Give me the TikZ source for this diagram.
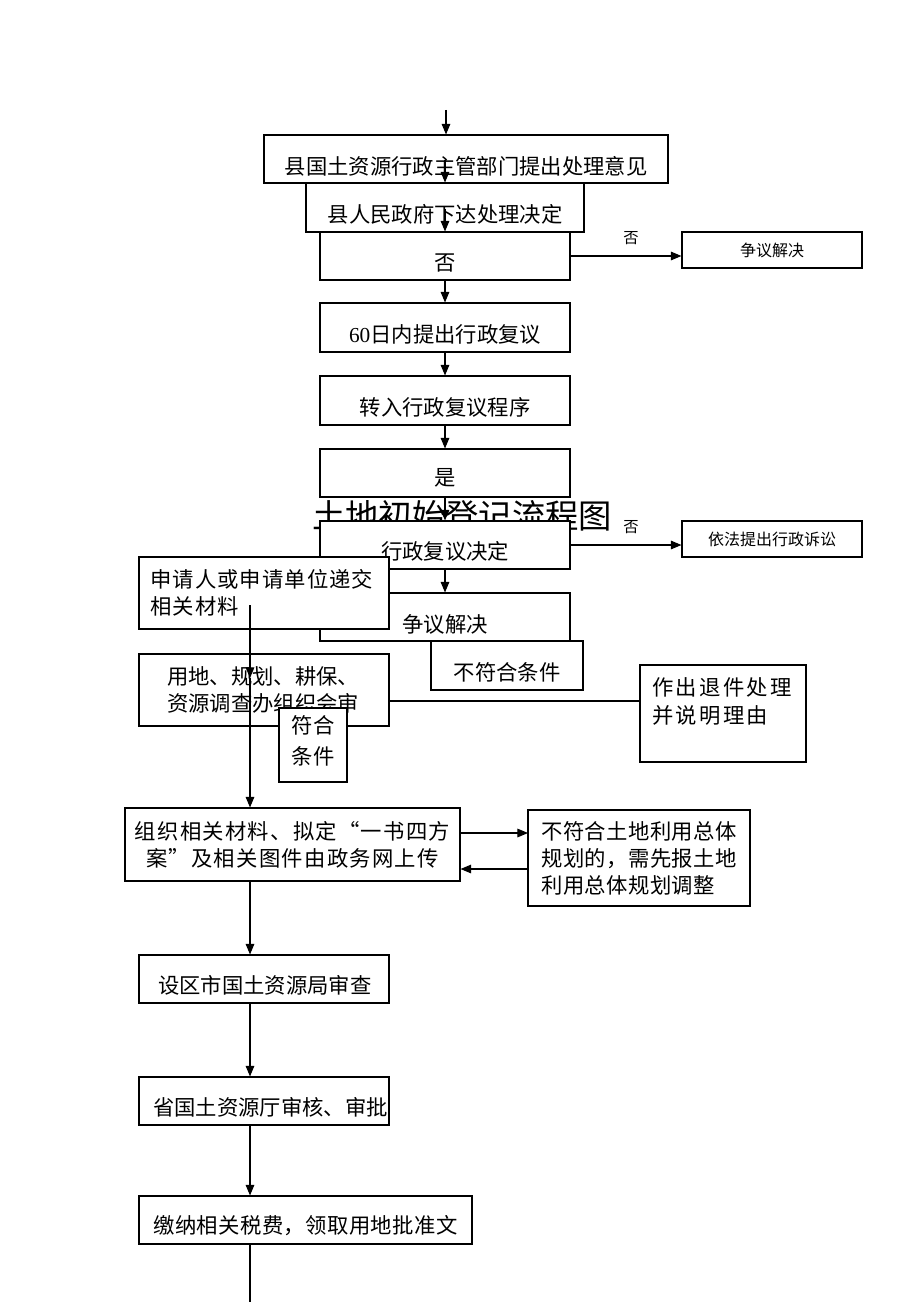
\documentclass[tikz,border=0pt]{standalone}
\usepackage{fontspec}
\setmainfont{Noto Sans CJK SC}
\newfontfamily\latinnum{Liberation Serif}
\usetikzlibrary{arrows.meta}

\tikzset{
  box/.style 2 args={draw, fill=white, line width=0.8pt, inner sep=0pt,
    minimum width=#1*0.75pt, minimum height=#2*0.75pt},
  txt/.style={inner sep=0pt, font=\fontsize{16}{20.25}\selectfont},
  smalltxt/.style={inner sep=0pt, font=\fontsize{11.5}{14}\selectfont},
  arr/.style={line width=0.8pt, -{Triangle[length=8pt,width=6.5pt]}},
  ln/.style={line width=0.8pt},
}

\begin{document}
\begin{tikzpicture}[x=0.75pt,y=-0.75pt]
  \useasboundingbox[fill=white] (0,0) rectangle (920,1302);

  %title, lower half hidden by the boxes drawn later
  \node[inner sep=0pt, font=\fontsize{25}{30}\selectfont] (title) at (462,516) {土地初始登记流程图};

  %upper chain
  \coordinate (top) at (446,110);
  \node[box={404}{48}] (A) at (466,159) {};
  \node[txt] (At) at (466,166) {县国土资源行政主管部门提出处理意见};
  \node[box={278}{49}] (B) at (445,207.5) {};
  \node[txt] (Bt) at (445,214) {县人民政府下达处理决定};
  \node[box={250}{48}] (C) at (445,256) {};
  \node[txt] (Ct) at (445,263) {否};
  \node[box={180}{36}] (R1) at (772,250) {};
  \node[txt, font=\fontsize{12}{14}\selectfont] (R1t) at (772,250) {争议解决};
  \node[smalltxt] (no1) at (631,238) {否};

  \draw[arr] (top) -- (top |- A.north);
  \draw[arr] ([yshift=17pt]B.north) -- (B.north);
  \draw[arr] ([yshift=17pt]C.north) -- (C.north);
  \draw[arr] (C.east) -- (C.east -| R1.west);

  \node[box={250}{49}] (D) at (445,327.5) {};
  \node[txt] (Dt) at (445,334) {{\latinnum 60}日内提出行政复议};
  \node[box={250}{49}] (E) at (445,400.5) {};
  \node[txt] (Et) at (445,407) {转入行政复议程序};
  \node[box={250}{48}] (F) at (445,473) {};
  \node[txt] (Ft) at (445,478) {是};
  \node[box={250}{48}] (G) at (445,545) {};
  \node[txt] (Gt) at (445,551) {行政复议决定};
  \node[box={180}{36}] (R2) at (772,539) {};
  \node[txt, font=\fontsize{12}{14}\selectfont] (R2t) at (772,539) {依法提出行政诉讼};
  \node[smalltxt] (no2) at (631,527) {否};
  \node[box={250}{48}] (H) at (445,617) {};
  \node[txt] (Ht) at (445,624) {争议解决};
  \node[box={152}{49}] (N) at (507,665.5) {};
  \node[txt] (Nt) at (507,672) {不符合条件};

  \draw[arr] (C.south) -- (D.north);
  \draw[arr] (D.south) -- (E.north);
  \draw[arr] (E.south) -- (F.north);
  \draw[arr] (F.south) -- (G.north);
  \draw[arr] (G.east) -- (G.east -| R2.west);
  \draw[arr] (G.south) -- (H.north);

  %lower chain
  \node[box={250}{72}] (S) at (264,593) {};
  \node[txt, anchor=west, align=left, font=\fontsize{16}{20.25}\selectfont\addfontfeature{LetterSpace=5}] (St) at (150,592.5) {申请人或申请单位递交\\相关材料};
  \node[box={250}{72}] (U) at (264,690) {};
  \node[txt, anchor=west, align=left] (Ut) at (167,689.5) {用地、规划、耕保、\\资源调查办组织会审};
  \node[box={68}{74}] (Y) at (313,745) {};
  \node[txt, align=center, font=\fontsize{16}{23.25}\selectfont] (Yt) at (313,740.5) {符合\\条件};
  \node[box={166}{97}] (T) at (723,713.5) {};
  \node[txt, anchor=west, align=left, font=\fontsize{16}{21}\selectfont\addfontfeature{LetterSpace=11}] (Tt) at (652,701) {作出退件处理\\并说明理由};

  \coordinate (ut) at (640,701);
  \draw[ln] (ut -| U.east) -- (ut);

  \node[box={335}{73}] (O) at (292.5,844.5) {};
  \node[txt, align=center, font=\fontsize{16}{20.25}\selectfont\addfontfeature{LetterSpace=6}] (Ot) at (292.5,844.5) {组织相关材料、拟定“一书四方\\案”及相关图件由政务网上传};
  \node[box={222}{96}] (P) at (639,858) {};
  \node[txt, anchor=west, align=left, font=\fontsize{16}{20.25}\selectfont\addfontfeature{LetterSpace=2}] (Pt) at (541,858) {不符合土地利用总体\\规划的，需先报土地\\利用总体规划调整};

  \coordinate (op) at (528,833);
  \coordinate (po) at (528,869);
  \draw[arr] (op -| O.east) -- (op);
  \draw[arr] (po) -- (po -| O.east);

  \node[box={250}{48}] (Q) at (264,979) {};
  \node[txt, anchor=west] (Qt) at (158,985) {设区市国土资源局审查};
  \node[box={250}{48}] (V) at (264,1101) {};
  \node[txt, anchor=west] (Vt) at (153,1107) {省国土资源厅审核、审批};
  \node[box={333}{48}] (W) at (305.5,1220) {};
  \node[txt, anchor=west, font=\fontsize{16}{20.25}\selectfont\addfontfeature{LetterSpace=2}] (Wt) at (153,1226) {缴纳相关税费，领取用地批准文};

  %main vertical line
  \coordinate (v1) at (250,605);
  \coordinate (v2) at (250,678);
  \coordinate (bot) at (250,1302);
  \draw[arr] (v1) -- (v2);
  \draw[arr] (v2) -- (v2 |- O.north);
  \draw[arr] (v2 |- O.south) -- (v2 |- Q.north);
  \draw[arr] (v2 |- Q.south) -- (v2 |- V.north);
  \draw[arr] (v2 |- V.south) -- (v2 |- W.north);
  \draw[ln] (v2 |- W.south) -- (bot);
\end{tikzpicture}
\end{document}
